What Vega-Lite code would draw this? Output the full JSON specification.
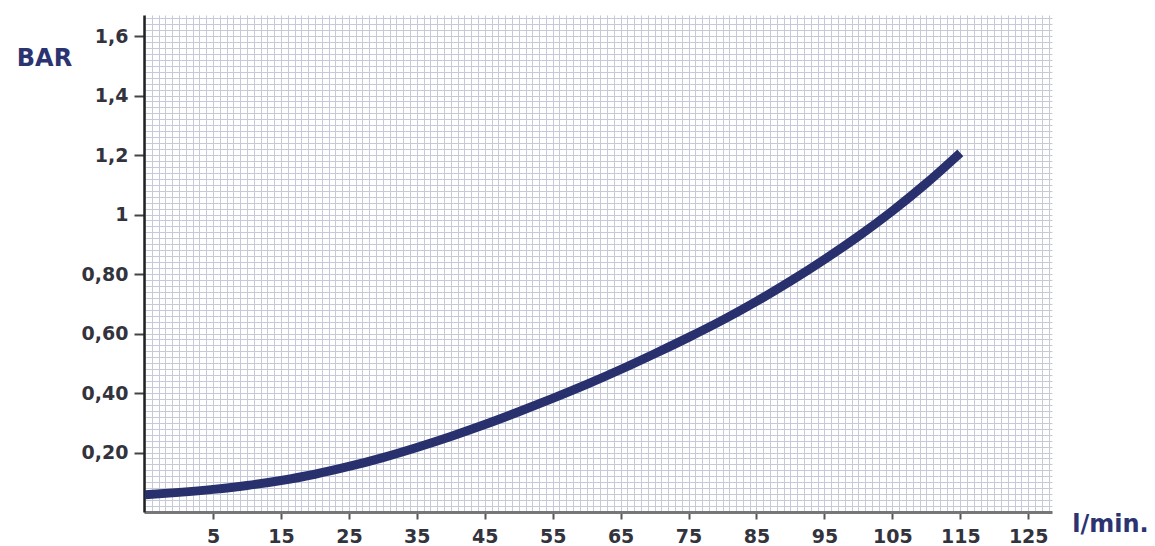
{
  "$schema": "https://vega.github.io/schema/vega-lite/v6.json",
  "width": 908,
  "height": 497,
  "autosize": {"type": "none"},
  "padding": {"left": 144, "top": 15, "right": 103, "bottom": 34},
  "background": "white",
  "config": {"view": {"stroke": null}},
  "data": {
    "values": [
      {"flow": -5, "bar": 0.058},
      {"flow": 0, "bar": 0.066},
      {"flow": 5, "bar": 0.076},
      {"flow": 10, "bar": 0.089},
      {"flow": 15, "bar": 0.106},
      {"flow": 20, "bar": 0.127},
      {"flow": 25, "bar": 0.153},
      {"flow": 30, "bar": 0.183},
      {"flow": 35, "bar": 0.217},
      {"flow": 40, "bar": 0.254},
      {"flow": 45, "bar": 0.294},
      {"flow": 50, "bar": 0.337},
      {"flow": 55, "bar": 0.382},
      {"flow": 60, "bar": 0.429},
      {"flow": 65, "bar": 0.479},
      {"flow": 70, "bar": 0.532},
      {"flow": 75, "bar": 0.587},
      {"flow": 80, "bar": 0.645},
      {"flow": 85, "bar": 0.708},
      {"flow": 90, "bar": 0.776},
      {"flow": 95, "bar": 0.849},
      {"flow": 100, "bar": 0.927},
      {"flow": 105, "bar": 1.012},
      {"flow": 110, "bar": 1.105},
      {"flow": 115, "bar": 1.207}
    ]
  },
  "mark": {"type": "line", "color": "#28306e", "strokeWidth": 9, "interpolate": "monotone"},
  "encoding": {
    "x": {
      "field": "flow",
      "type": "quantitative",
      "scale": {"domain": [-5.16, 128.5], "nice": false, "zero": false},
      "axis": {
        "title": "l/min.",
        "titleFont": "DejaVu Sans",
        "titleFontSize": 24,
        "titleFontWeight": "bold",
        "titleColor": "#2b3470",
        "titleAlign": "center",
        "titleBaseline": "middle",
        "titleX": 966,
        "titleY": 12,
        "tickCount": 134,
        "labelExpr": "abs(datum.value % 10 - 5) < 0.01 && datum.value > 0 ? datum.label : ''",
        "labelOverlap": false,
        "labelFlush": false,
        "labelFont": "DejaVu Sans",
        "labelFontSize": 19,
        "labelFontWeight": "bold",
        "labelColor": "#33333d",
        "labelPadding": 8,
        "tickSize": 7,
        "tickWidth": 2,
        "tickColor": "#555",
        "tickOpacity": {"condition": {"test": "abs(datum.value % 10 - 5) < 0.01 && datum.value > 0", "value": 1}, "value": 0},
        "domainColor": "#777",
        "domainWidth": 3,
        "grid": true,
        "gridColor": "#c6c9d8",
        "gridWidth": 1
      }
    },
    "y": {
      "field": "bar",
      "type": "quantitative",
      "scale": {"domain": [0, 1.6706], "nice": false, "zero": true},
      "axis": {
        "title": "BAR",
        "titleAngle": 0,
        "titleFont": "DejaVu Sans",
        "titleFontSize": 24,
        "titleFontWeight": "bold",
        "titleColor": "#2b3470",
        "titleAlign": "center",
        "titleBaseline": "middle",
        "titleX": -100,
        "titleY": 43,
        "tickCount": 84,
        "labelExpr": "datum.value > 0.1 && abs(datum.value * 5 - round(datum.value * 5)) < 0.01 ? (datum.value < 0.9 ? replace(format(datum.value, '.2f'), '.', ',') : (abs(datum.value - 1) < 0.01 ? '1' : replace(format(datum.value, '.1f'), '.', ','))) : ''",
        "labelOverlap": false,
        "labelFlush": false,
        "labelFont": "DejaVu Sans",
        "labelFontSize": 19,
        "labelFontWeight": "bold",
        "labelColor": "#33333d",
        "labelPadding": 6,
        "tickSize": 10,
        "tickWidth": 2,
        "tickColor": "#444",
        "tickOpacity": {"condition": {"test": "datum.value > 0.1 && abs(datum.value * 5 - round(datum.value * 5)) < 0.01", "value": 1}, "value": 0},
        "domainColor": "#222",
        "domainWidth": 2.5,
        "grid": true,
        "gridColor": "#c6c9d8",
        "gridWidth": 1
      }
    }
  }
}
